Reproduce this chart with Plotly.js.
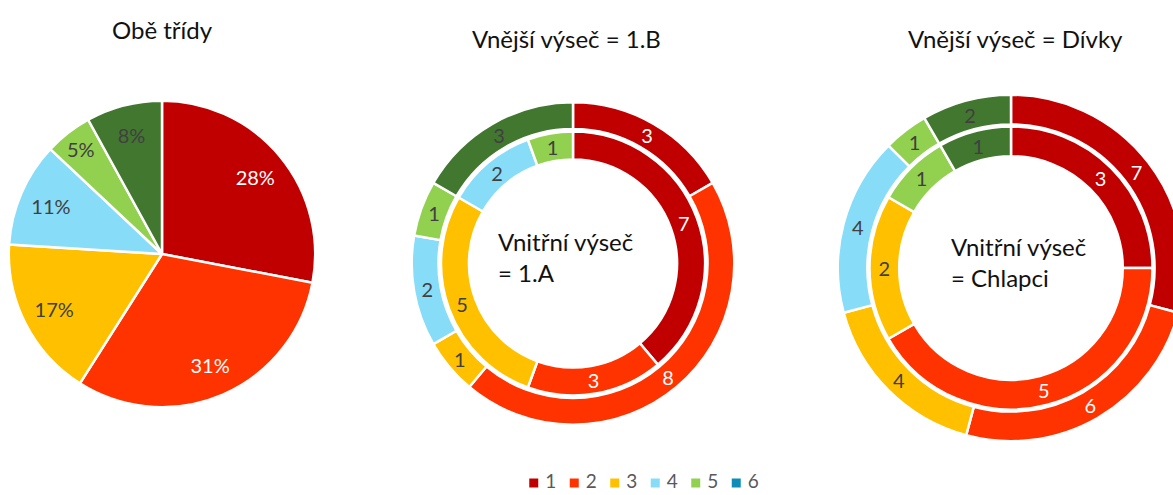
<!DOCTYPE html>
<html><head><meta charset="utf-8">
<script src="https://cdn.plot.ly/plotly-3.0.1.min.js"></script>
<style>html,body{margin:0;padding:0;overflow:hidden;background:#fff}#chart{width:1190px;height:495px}</style>
</head><body><div id="chart"></div>
<script>
const categories = ['1','2','3','4','5','6'];
const sliceColors = ['#C00000','#FF3300','#FFC000','#87DCF8','#92D050','#42772F'];
const legendColors = ['#C00000','#FF3300','#FFC000','#87DCF8','#92D050','#0E8BB6'];
const bothClassesPct = [28,31,17,11,5,8];
const class1A = [7,3,5,2,1,0];
const class1B = [3,8,1,2,1,3];
const boys = [3,5,2,0,1,1];
const girls = [7,6,4,4,1,2];
const titles = ['Obě třídy','Vnější výseč = 1.B','Vnější výseč = Dívky'];
const centerTexts = ['Vnitřní výseč<br>= 1.A','Vnitřní výseč<br>= Chlapci'];

const W = 1190, H = 495;
const FONT = 'Lato, "Open Sans", sans-serif';
function dom(cx, cy, r){ return {x:[(cx-r)/W,(cx+r)/W], y:[(H-cy-r)/H,(H-cy+r)/H]}; }

function ring(values, cx, cy, r, hole, tmpl, opts){
  opts = opts || {};
  const idx = values.map((v,i)=>i).filter(i=>values[i]>0);
  return {
    type:'pie', labels: idx.map(i=>categories[i]), values: idx.map(i=>values[i]),
    marker: opts.ghost
      ? {colors: idx.map(()=> 'rgba(0,0,0,0)'), line:{color:'rgba(0,0,0,0)', width:0}}
      : {colors: idx.map(i=>sliceColors[i]), line:{color:'#ffffff', width:2.5}},
    sort:false, direction:'clockwise', rotation:0, hole: hole,
    domain: dom(cx, cy, r),
    texttemplate: tmpl, textinfo: tmpl ? undefined : 'none',
    textposition: tmpl ? 'inside' : 'none', insidetextorientation:'horizontal',
    textfont:{family:FONT, size:20, color: idx.map(i=> i<2 ? '#ffffff' : '#404040')},
    hoverinfo: opts.ghost ? 'skip' : 'label+value', showlegend:false
  };
}

const data = [
  ring(bothClassesPct, 162, 254, 153.2, 0, null),
  ring(bothClassesPct, 162, 254, 153.2, 0.58, '%{value}%', {ghost:true}),
  ring(class1B, 573, 263.5, 161.3, 0.834, '%{value}'),
  ring(class1A, 573, 263.5, 132, 0.788, '%{value}'),
  ring(girls, 1011, 268, 173.2, 0.829, '%{value}'),
  ring(boys, 1011, 268, 141.5, 0.79, '%{value}'),
  {type:'scatter', x:categories, y:categories.map(()=>0), mode:'markers',
   marker:{symbol:'square', size:9, color:legendColors, line:{width:0}}, xaxis:'x', yaxis:'y',
   cliponaxis:false, hoverinfo:'skip', showlegend:false},
  {type:'scatter', x:categories, y:categories.map(()=>0), mode:'text', text:categories,
   textposition:'middle right', textfont:{family:FONT, size:19, color:'#595959'},
   cliponaxis:false, xaxis:'x2', yaxis:'y', hoverinfo:'skip', showlegend:false}
];

const ann = [];
const titlePos = [[162,30],[566,38],[1015,38]];
titles.forEach((t,i)=>ann.push({text:t, xref:'paper', yref:'paper', x:titlePos[i][0]/W, y:1-titlePos[i][1]/H,
  xanchor:'center', yanchor:'middle', showarrow:false, font:{family:FONT, size:24, color:'#111111'}}));
const centerPos = [[496,256.5],[949,261.5]];
centerTexts.forEach((t,i)=>ann.push({text:t, xref:'paper', yref:'paper', x:centerPos[i][0]/W, y:1-centerPos[i][1]/H,
  xanchor:'left', yanchor:'middle', align:'left', showarrow:false, font:{family:FONT, size:24, color:'#111111'}}));

const layout = {
  width:W, height:H, margin:{l:0,r:0,t:0,b:0}, paper_bgcolor:'#ffffff', plot_bgcolor:'rgba(0,0,0,0)',
  showlegend:false, font:{family:FONT},
  uniformtext:{minsize:20, mode:'show'},
  xaxis:{domain:[513.5/W,756.5/W], range:[-0.5,5.5], type:'category', visible:false, fixedrange:true},
  xaxis2:{domain:[525/W,768/W], range:[-0.5,5.5], type:'category', visible:false, fixedrange:true},
  yaxis:{domain:[0,24/H], range:[-1,1], visible:false, fixedrange:true},
  annotations: ann
};
Plotly.newPlot('chart', data, layout, {displayModeBar:false, staticPlot:true});
</script></body></html>
